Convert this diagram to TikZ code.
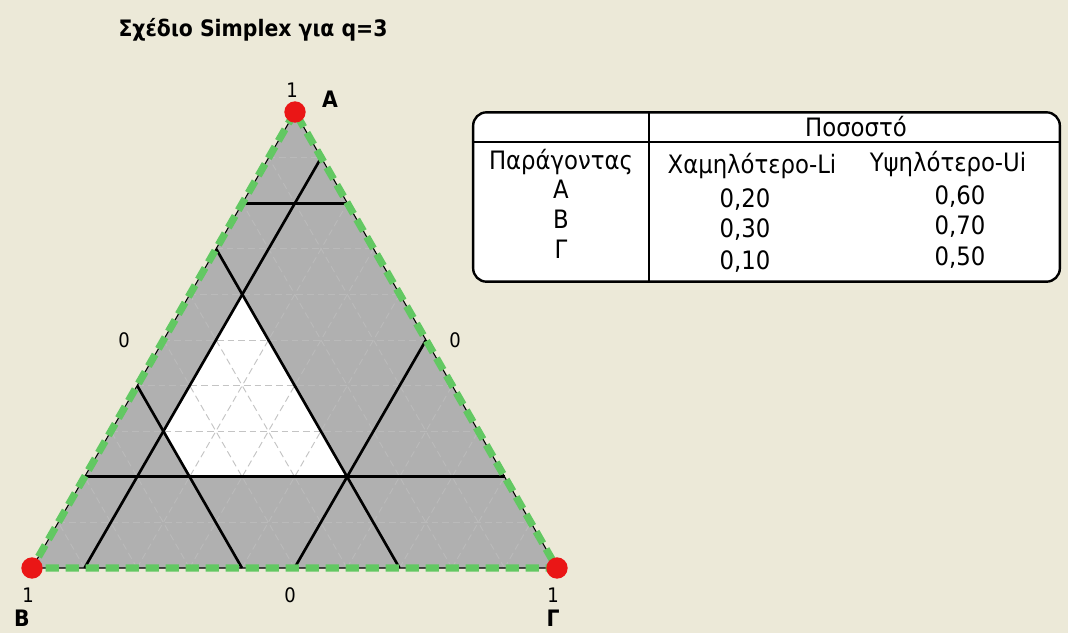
\documentclass[tikz,border=0pt]{standalone}
\usepackage{fontspec}
\setmainfont{DejaVu Sans Condensed}
\usetikzlibrary{calc}
\definecolor{xpbeige}{RGB}{236,233,216}
\definecolor{smgray}{RGB}{176,176,176}
\definecolor{smgreen}{RGB}{98,200,98}
\definecolor{smred}{RGB}{234,22,22}
\definecolor{smgrid}{RGB}{196,196,196}
\definecolor{smgridfaint}{RGB}{186,186,186}
\newcommand{\feasible}{(barycentric cs:A=0.6,B=0.3,G=0.1) -- (barycentric cs:A=0.3,B=0.6,G=0.1)
    -- (barycentric cs:A=0.2,B=0.6,G=0.2) -- (barycentric cs:A=0.2,B=0.3,G=0.5) -- cycle}
\tikzset{
    bound/.style={line width=2pt,draw=black},
    gridline/.style={draw=#1,line width=0.7pt,dash pattern=on 5pt off 3pt},
    gridline/.default=smgrid,
    rim/.style={draw=smgreen,line width=5.5pt,dash pattern=on 10pt off 5pt},
    vdot/.style={circle,fill=smred,inner sep=0pt,minimum size=16pt},
    tick/.style={font=\fontsize{15}{17}\selectfont,inner sep=0pt},
    vlabel/.style={font=\bfseries\fontsize{17}{19}\selectfont,inner sep=0pt},
    cell/.style={font=\fontsize{19}{21}\selectfont,inner sep=0pt},
    tablebox/.style={draw=black,line width=1.8pt,rounded corners=10pt,fill=white,
        minimum width=440pt,minimum height=127pt,inner sep=0pt}
}
\begin{document}
\begin{tikzpicture}[x=0.75pt,y=-0.75pt]
\fill[xpbeige] (0,0) rectangle (1068,633);
\useasboundingbox (0,0) rectangle (1068,633);

% title
\node[font=\bfseries\fontsize{17}{19}\selectfont] (title) at (253,30) {Σχέδιο Simplex για q=3};

% simplex
\coordinate (A) at (295,112);
\coordinate (B) at (32,568);
\coordinate (G) at (557,568);
\fill[smgray] (A) -- (B) -- (G) -- cycle;
\foreach \i in {1,...,9}{
    \draw[gridline=smgridfaint] ($(B)!\i/10!(A)$) -- ($(G)!\i/10!(A)$);
    \draw[gridline=smgridfaint] ($(G)!\i/10!(B)$) -- ($(A)!\i/10!(B)$);
    \draw[gridline=smgridfaint] ($(B)!\i/10!(G)$) -- ($(A)!\i/10!(G)$);
}
\fill[white] \feasible;
\begin{scope}
\clip \feasible;
\foreach \i in {1,...,9}{
    \draw[gridline] ($(B)!\i/10!(A)$) -- ($(G)!\i/10!(A)$);
    \draw[gridline] ($(G)!\i/10!(B)$) -- ($(A)!\i/10!(B)$);
    \draw[gridline] ($(B)!\i/10!(G)$) -- ($(A)!\i/10!(G)$);
}
\end{scope}

% constraint lines
\draw[bound] ($(B)!0.2!(A)$) -- ($(G)!0.2!(A)$);
\draw[bound] ($(B)!0.8!(A)$) -- ($(G)!0.8!(A)$);
\draw[bound] ($(G)!0.3!(B)$) -- ($(A)!0.3!(B)$);
\draw[bound] ($(G)!0.6!(B)$) -- ($(A)!0.6!(B)$);
\draw[bound] ($(B)!0.1!(G)$) -- ($(A)!0.1!(G)$);
\draw[bound] ($(B)!0.5!(G)$) -- ($(A)!0.5!(G)$);

% edges
\draw[black,line width=0.8pt] (A) -- (B) -- (G) -- cycle;
\draw[rim] (A) -- (B) -- (G) -- cycle;
\node[vdot] (dA) at (A) {};
\node[vdot] (dB) at (B) {};
\node[vdot] (dG) at (G) {};

% labels
\node[tick] (oneA) at (292,90) {1};
\node[vlabel] (labA) at (330,99) {A};
\node[tick] (zeroAB) at (124,340) {0};
\node[tick] (zeroAG) at (455,340) {0};
\node[tick] (zeroBG) at (290,595) {0};
\node[tick] (oneB) at (28,595) {1};
\node[vlabel] (labB) at (22,618) {B};
\node[tick] (oneG) at (553,595) {1};
\node[vlabel] (labG) at (553,618) {Γ};

% table
\node[tablebox] (tab) at (766.5,197) {};
\draw[line width=1.2pt] ($(tab.north west)+(0,31)$) -- ($(tab.north east)+(0,31)$);
\draw[line width=1.2pt] ($(tab.north west)+(177,0)$) -- ($(tab.south west)+(177,0)$);
\node[cell] (hpct) at (856,127) {Ποσοστό};
\node[cell] (hfac) at (561,162) {Παράγοντας};
\node[cell] (hlow) at (752,166) {Χαμηλότερο-Li};
\node[cell] (hupp) at (948,164) {Υψηλότερο-Ui};
\node[cell] (fA) at (561,189) {A};
\node[cell] (fB) at (561,219) {B};
\node[cell] (fG) at (561,249) {Γ};
\node[cell] (lA) at (745,200) {0,20};
\node[cell] (lB) at (745,230) {0,30};
\node[cell] (lG) at (745,262) {0,10};
\node[cell] (uA) at (960,197) {0,60};
\node[cell] (uB) at (960,227) {0,70};
\node[cell] (uG) at (960,258) {0,50};
\end{tikzpicture}
\end{document}
